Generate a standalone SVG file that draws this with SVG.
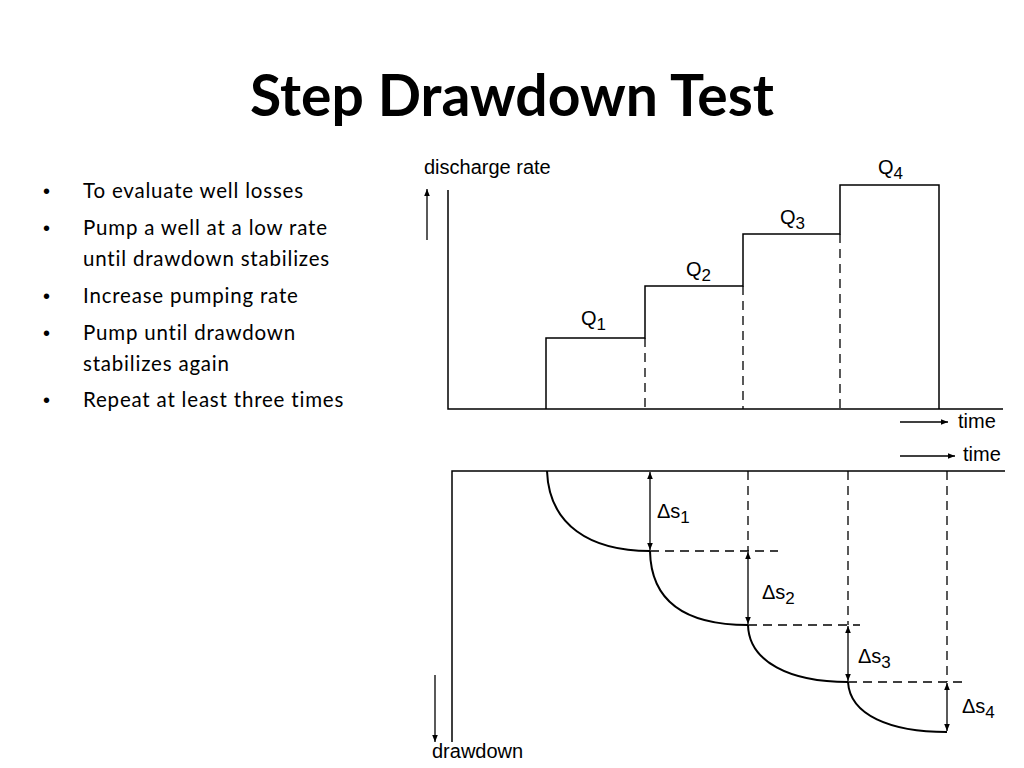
<svg xmlns="http://www.w3.org/2000/svg" width="1024" height="768" viewBox="0 0 1024 768">
<defs>
<marker id="ah" viewBox="0 0 10 10" refX="10" refY="5" markerWidth="7" markerHeight="7" orient="auto-start-reverse" markerUnits="userSpaceOnUse"><path d="M0,1 L10,5 L0,9 z" fill="#000"/></marker>
<style>
.t{font-family:"Liberation Sans",Arial,sans-serif;font-size:20px;fill:#000}
.b{font-family:Lato,"Open Sans",sans-serif;font-size:20.5px;letter-spacing:0.8px;fill:#000}
.bu{font-family:"Liberation Sans",sans-serif;font-size:20px;fill:#000}
.l{stroke:#000;stroke-width:1.5;fill:none}
.d{stroke:#000;stroke-width:1.3;fill:none;stroke-dasharray:9,6}
.c{stroke:#000;stroke-width:2;fill:none}
.a{stroke:#000;stroke-width:1.3;fill:none}
</style>
</defs>
<rect width="1024" height="768" fill="#fff"/>
<text x="512" y="116" text-anchor="middle" font-family="Lato,'Open Sans',sans-serif" font-size="57" font-weight="bold">Step Drawdown Test</text>
<g id="bullets">
<text class="bu" x="43" y="198">•</text><text class="b" x="83" y="198">To evaluate well losses</text>
<text class="bu" x="43" y="235">•</text><text class="b" x="83" y="235">Pump a well at a low rate</text>
<text class="b" x="83" y="266">until drawdown stabilizes</text>
<text class="bu" x="43" y="303">•</text><text class="b" x="83" y="303">Increase pumping rate</text>
<text class="bu" x="43" y="340">•</text><text class="b" x="83" y="340">Pump until drawdown</text>
<text class="b" x="83" y="371">stabilizes again</text>
<text class="bu" x="43" y="407">•</text><text class="b" x="83" y="407">Repeat at least three times</text>
</g>
<g id="top-chart">
<path class="l" d="M448,190 V409 H1003"/>
<path class="l" d="M546,409 V338 H645 V286 H743 V234 H840 V185 H939 V409"/>
<path class="d" d="M645,338 V409 M743,286 V409 M840,234 V409"/>
<text class="t" x="424" y="174" font-size="18">discharge rate</text>
<text class="t" x="581" y="325">Q<tspan font-size="17" dy="5">1</tspan></text>
<text class="t" x="686" y="276">Q<tspan font-size="17" dy="5">2</tspan></text>
<text class="t" x="780" y="224">Q<tspan font-size="17" dy="5">3</tspan></text>
<text class="t" x="878" y="174">Q<tspan font-size="17" dy="5">4</tspan></text>
<text class="t" x="958" y="428" font-size="18">time</text>
</g>
<g id="bottom-chart">
<path class="l" d="M452,742 V471 H1005"/>
<path class="c" d="M547,471 C549,525 590,551 650,551 M650,551 C651,605 690,625 748,625 M748,625 C749,662 790,682 848,682 M848,682 C850,715 890,732 947,732"/>
<path class="d" d="M650,551 H778 M748,625 H860 M848,682 H965 M748,471 V551 M848,471 V625 M947,471 V682"/>
<text class="t" x="657" y="518">Δs<tspan font-size="17" dy="5">1</tspan></text>
<text class="t" x="762" y="599">Δs<tspan font-size="17" dy="5">2</tspan></text>
<text class="t" x="858" y="663">Δs<tspan font-size="17" dy="5">3</tspan></text>
<text class="t" x="962" y="713">Δs<tspan font-size="17" dy="5">4</tspan></text>
<text class="t" x="432" y="758" font-size="18">drawdown</text>
<text class="t" x="963" y="461" font-size="18">time</text>
</g>
<g id="connectors">
<line class="a" x1="427" y1="240" x2="427" y2="189" marker-end="url(#ah)"/>
<line class="a" x1="900" y1="422" x2="948" y2="422" marker-end="url(#ah)"/>
<line class="a" x1="900" y1="456" x2="955" y2="456" marker-end="url(#ah)"/>
<line class="a" x1="435" y1="675" x2="435" y2="742" marker-end="url(#ah)"/>
<line class="a" x1="650" y1="472" x2="650" y2="550" marker-start="url(#ah)" marker-end="url(#ah)"/>
<line class="a" x1="748" y1="552" x2="748" y2="624" marker-start="url(#ah)" marker-end="url(#ah)"/>
<line class="a" x1="848" y1="626" x2="848" y2="681" marker-start="url(#ah)" marker-end="url(#ah)"/>
<line class="a" x1="947" y1="683" x2="947" y2="731" marker-start="url(#ah)" marker-end="url(#ah)"/>
</g>
</svg>
